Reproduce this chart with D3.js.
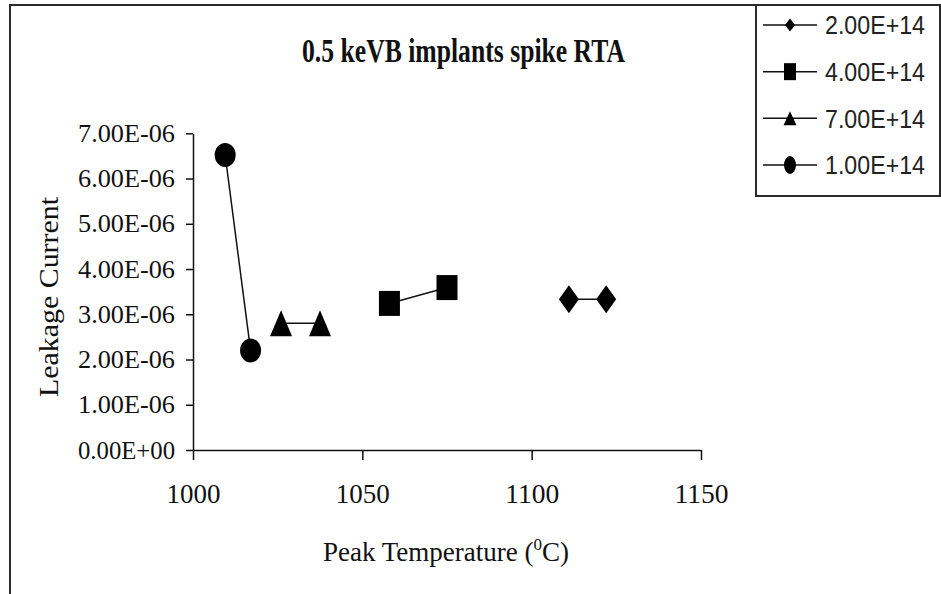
<!DOCTYPE html>
<html>
<head>
<meta charset="utf-8">
<script src="https://cdn.jsdelivr.net/npm/d3@7"></script>
<style>
  html, body { margin: 0; padding: 0; background: #fff; }
  svg { display: block; }
</style>
</head>
<body>
<svg id="chart" width="941" height="594"></svg>
<script>
// Leakage current vs peak spike-anneal temperature, one series per B dose
const seriesNames = ["2.00E+14", "4.00E+14", "7.00E+14", "1.00E+14"];
const seriesShapes = ["diamond", "square", "triangle", "circle"];

const temp2e14 = [1111, 1122];
const current2e14 = [3.33e-6, 3.33e-6];
const temp4e14 = [1058, 1075];
const current4e14 = [3.24e-6, 3.59e-6];
const temp7e14 = [1026, 1037.5];
const current7e14 = [2.8e-6, 2.8e-6];
const temp1e14 = [1009.5, 1017];
const current1e14 = [6.52e-6, 2.2e-6];

const xTicks = [1000, 1050, 1100, 1150];
const yTicks = [0, 1e-6, 2e-6, 3e-6, 4e-6, 5e-6, 6e-6, 7e-6];

const chartTitle = "0.5 keVB implants spike RTA";
const yTitle = "Leakage  Current";

const seriesTemps = [temp2e14, temp4e14, temp7e14, temp1e14];
const seriesCurrents = [current2e14, current4e14, current7e14, current1e14];
const seriesData = seriesNames.map((name, i) => ({
  name,
  shape: seriesShapes[i],
  points: seriesTemps[i].map((t, j) => ({ t, c: seriesCurrents[i][j] }))
}));

const svg = d3.select("#chart");
const serif = "'Liberation Serif', 'Times New Roman', serif";
const sans = "'Liberation Sans', Arial, sans-serif";

const plot = { left: 193, right: 701, top: 133.3, bottom: 450 };
const x = d3.scaleLinear().domain([1000, 1150]).range([plot.left, plot.right]);
const y = d3.scaleLinear().domain([0, 7e-6]).range([plot.bottom, plot.top]);

// Excel-style scientific labels: 7.00E-06
function sci(v) {
  if (v === 0) return "0.00E+00";
  const [m, e] = v.toExponential(2).split("e");
  const n = +e;
  return m + "E" + (n < 0 ? "-" : "+") + String(Math.abs(n)).padStart(2, "0");
}

// Marker outline of width w, height h, centred on the origin
function markerPath(shape, w, h) {
  const a = w / 2, b = h / 2;
  if (shape === "diamond") return `M0,${-b}L${a},0L0,${b}L${-a},0Z`;
  if (shape === "square") return `M${-a},${-b}H${a}V${b}H${-a}Z`;
  if (shape === "triangle") return `M0,${-b}L${a},${b}H${-a}Z`;
  return `M${-a},0A${a},${b} 0 1,0 ${a},0A${a},${b} 0 1,0 ${-a},0Z`;
}
const markerSize = { diamond: [20, 28], square: [21, 25], triangle: [22, 26], circle: [21, 24] };
const legendMarkerSize = { diamond: [10, 13], square: [12, 17], triangle: [13, 14], circle: [12, 18] };

// Chart frame (only top and left edges fall inside the view)
svg.append("path")
  .attr("d", "M10,600V5H756")
  .attr("fill", "none").attr("stroke", "#2a2a2a").attr("stroke-width", 2);

// Title
svg.append("text")
  .attr("x", 463.5).attr("y", 62)
  .attr("text-anchor", "middle")
  .attr("font-family", serif).attr("font-weight", "bold").attr("font-size", 33)
  .attr("textLength", 323).attr("lengthAdjust", "spacingAndGlyphs")
  .attr("fill", "#111")
  .text(chartTitle);

// Y axis
const yAxis = d3.axisLeft(y).tickValues(yTicks).tickFormat(sci).tickSize(7).tickSizeOuter(0).tickPadding(18);
const gy = svg.append("g").attr("transform", `translate(${plot.left},0)`).call(yAxis);
gy.selectAll("text")
  .attr("font-family", serif).attr("font-size", 25).attr("fill", "#111")
  .attr("text-anchor", "start").attr("x", -115)
  .attr("textLength", 97).attr("lengthAdjust", "spacingAndGlyphs");

// X axis
const xAxis = d3.axisBottom(x).tickValues(xTicks).tickFormat(d3.format("d")).tickSize(10).tickSizeOuter(0).tickPadding(24);
const gx = svg.append("g").attr("transform", `translate(0,${plot.bottom})`).call(xAxis);
gx.selectAll("text").attr("font-family", serif).attr("font-size", 27).attr("fill", "#111")
  .attr("textLength", 54).attr("lengthAdjust", "spacingAndGlyphs");

[gx, gy].forEach(g => {
  g.selectAll("path, line").attr("stroke", "#111").attr("stroke-width", 1.5);
});

// Axis titles
svg.append("text")
  .attr("transform", `translate(58,297) rotate(-90)`)
  .attr("text-anchor", "middle")
  .attr("font-family", serif).attr("font-size", 27)
  .attr("textLength", 200).attr("lengthAdjust", "spacingAndGlyphs")
  .attr("fill", "#111")
  .text(yTitle);

const xt = svg.append("text")
  .attr("x", 446).attr("y", 561)
  .attr("text-anchor", "middle")
  .attr("font-family", serif).attr("font-size", 27)
  .attr("fill", "#111");
xt.append("tspan").text("Peak Temperature (");
xt.append("tspan").attr("dy", -11).attr("font-size", 17).text("0");
xt.append("tspan").attr("dy", 11).text("C)");

// Series: connecting lines then markers
const line = d3.line().x(d => x(d.t)).y(d => y(d.c));
const gs = svg.append("g").selectAll("g").data(seriesData).join("g");
gs.append("path")
  .attr("d", d => line(d.points))
  .attr("fill", "none").attr("stroke", "#111").attr("stroke-width", 1.5);
gs.selectAll(".mk").data(d => d.points.map(p => ({ ...p, shape: d.shape }))).join("path")
  .attr("class", "mk")
  .attr("transform", d => `translate(${x(d.t)},${y(d.c)})`)
  .attr("d", d => markerPath(d.shape, ...markerSize[d.shape]))
  .attr("fill", "#000");

// Legend
const legend = svg.append("g");
legend.append("rect")
  .attr("x", 756).attr("y", 5).attr("width", 184).attr("height", 191)
  .attr("fill", "#fff").attr("stroke", "#2a2a2a").attr("stroke-width", 2);
const rowY = d3.scalePoint().domain(seriesNames).range([25, 165]);
const rows = legend.selectAll(".row").data(seriesData).join("g")
  .attr("class", "row")
  .attr("transform", d => `translate(0,${rowY(d.name)})`);
rows.append("line").attr("x1", 763).attr("x2", 817).attr("stroke", "#111").attr("stroke-width", 1.5);
rows.append("path")
  .attr("transform", "translate(790,0)")
  .attr("d", d => markerPath(d.shape, ...legendMarkerSize[d.shape]))
  .attr("fill", "#000");
rows.append("text")
  .attr("x", 825).attr("y", 0).attr("dy", "0.36em")
  .attr("font-family", sans).attr("font-size", 26)
  .attr("textLength", 100).attr("lengthAdjust", "spacingAndGlyphs")
  .attr("fill", "#222")
  .text(d => d.name);
</script>
</body>
</html>
